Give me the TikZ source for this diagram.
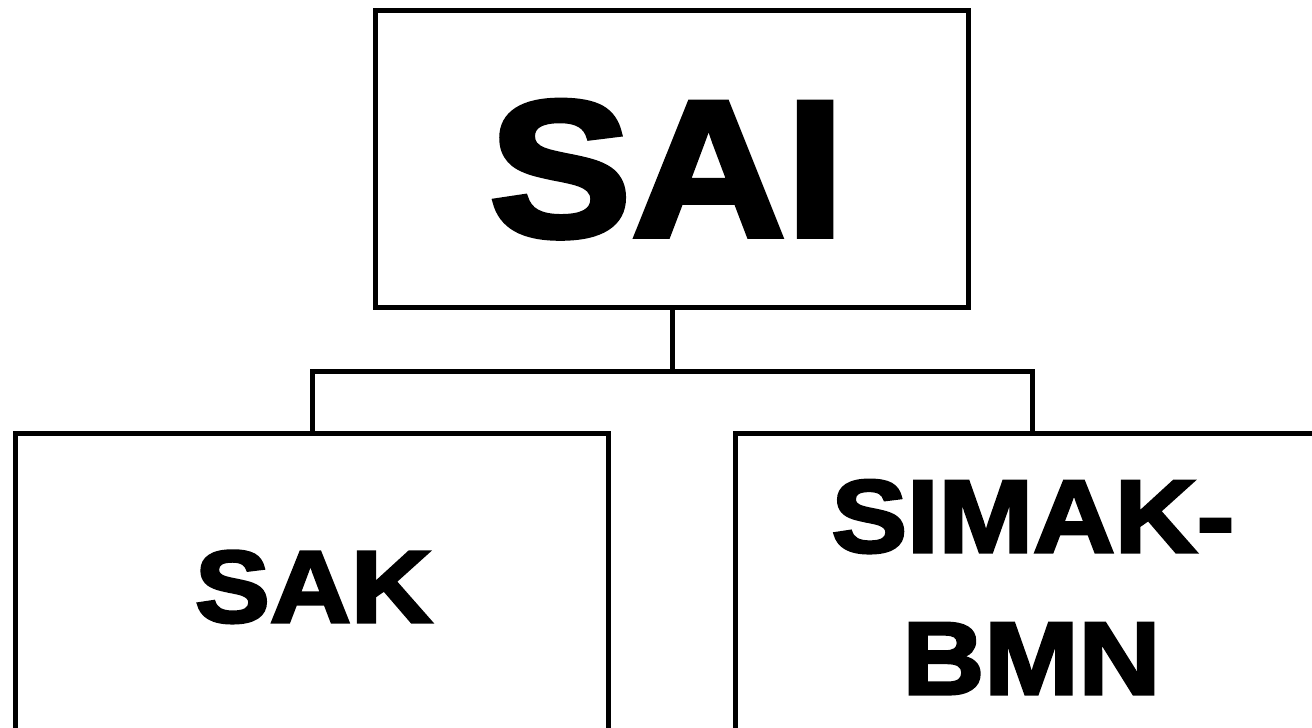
\documentclass[tikz,border=0pt]{standalone}
\usepackage{fontspec}
\newfontfamily\hv{Liberation Sans}[FakeStretch=1.1,FakeBold=3]
\begin{document}
\begin{tikzpicture}[x=1pt,y=-1pt,
  box/.style={draw=black,line width=5pt,rectangle,inner sep=0pt,fill=none},
  conn/.style={draw=black,line width=5pt,line join=miter},
  lbl/.style={inner sep=0pt,anchor=base,font=\hv\bfseries,text=black}]
\useasboundingbox (0,0) rectangle (1312,728);
\clip (0,0) rectangle (1312,728);
\fill[white] (0,0) rectangle (1312,728);
% boxes
\node[box,minimum width=593pt,minimum height=297pt] (sai) at (671.5,158.5) {};
\node[box,minimum width=593pt,minimum height=304pt] (sak) at (311.5,585) {};
\node[box,minimum width=593pt,minimum height=304pt] (simak) at (1031.5,585) {};
% connectors
\coordinate (hl) at (312,371);
\coordinate (hr) at (1032,371);
\coordinate (hm) at (672,371);
\draw[conn] (sai.south -| hm) -- (hm);
\draw[conn] (sak.north -| hl) -- (hl) -- (hr) -- (simak.north -| hr);
% labels
\node[lbl,font=\hv\bfseries\fontsize{194}{194}\selectfont] (saiT) at (667,236) {SAI};
\node[lbl,font=\hv\bfseries\fontsize{102}{102}\selectfont] (sakT) at (313.5,622) {SAK};
\node[lbl,font=\hv\bfseries\fontsize{103}{103}\selectfont] (simakT) at (1033,552) {SIMAK-};
\node[lbl,font=\hv\bfseries\fontsize{103}{103}\selectfont] (bmnT) at (1031.5,694) {BMN};
\end{tikzpicture}
\end{document}
